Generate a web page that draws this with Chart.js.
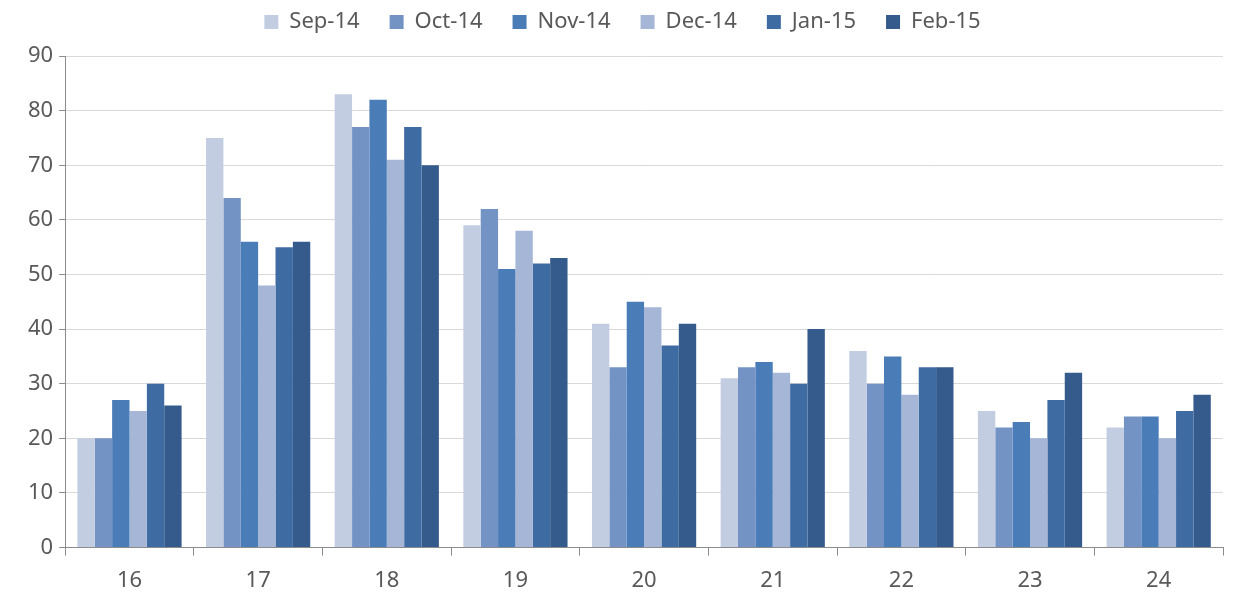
<!DOCTYPE html>
<html>
<head>
<meta charset="utf-8">
<script src="https://cdn.jsdelivr.net/npm/chart.js@4/dist/chart.umd.min.js"></script>
<style>
  html, body { margin: 0; padding: 0; background: #fff; }
  #wrap { width: 1237px; height: 593px; }
</style>
</head>
<body>
<div id="wrap"><canvas id="chart" width="1237" height="593"></canvas></div>
<script>
const categories = ['16', '17', '18', '19', '20', '21', '22', '23', '24'];
const seriesNames = ['Sep-14', 'Oct-14', 'Nov-14', 'Dec-14', 'Jan-15', 'Feb-15'];
const sep14 = [20, 75, 83, 59, 41, 31, 36, 25, 22];
const oct14 = [20, 64, 77, 62, 33, 33, 30, 22, 24];
const nov14 = [27, 56, 82, 51, 45, 34, 35, 23, 24];
const dec14 = [25, 48, 71, 58, 44, 32, 28, 20, 20];
const jan15 = [30, 55, 77, 52, 37, 30, 33, 27, 25];
const feb15 = [26, 56, 70, 53, 41, 40, 33, 32, 28];
const yTicks = [0, 10, 20, 30, 40, 50, 60, 70, 80, 90];

const colors = ['#c3cde2', '#7393c5', '#4a7cb8', '#a6b6d6', '#3f6ba3', '#345b8b'];
const values = [sep14, oct14, nov14, dec14, jan15, feb15];

// give the legend some extra room below it
const legendSpace = {
    id: 'legendSpace',
    beforeInit(chart) {
        const fit = chart.legend.fit;
        chart.legend.fit = function() {
            fit.bind(chart.legend)();
            this.height += 13;
        };
    }
};

const ctx = document.getElementById('chart').getContext('2d');
new Chart(ctx, {
    type: 'bar',
    data: {
        labels: categories,
        datasets: seriesNames.map((name, i) => ({
            label: name,
            data: values[i],
            backgroundColor: colors[i],
            borderWidth: 0,
            categoryPercentage: 0.81,
            barPercentage: 1
        }))
    },
    plugins: [legendSpace],
    options: {
        responsive: false,
        animation: false,
        layout: { padding: { left: 22, right: 14, top: -19, bottom: -13 } },
        plugins: {
            legend: {
                position: 'top',
                labels: {
                    boxWidth: 14,
                    boxHeight: 14,
                    padding: 30,
                    color: '#595959',
                    font: { family: 'Noto Sans', size: 22 }
                }
            },
            tooltip: { enabled: false }
        },
        scales: {
            x: {
                grid: {
                    display: true,
                    drawOnChartArea: false,
                    offset: true,
                    tickLength: 8,
                    tickColor: '#8c8c8c'
                },
                border: { color: '#8c8c8c' },
                ticks: {
                    color: '#595959',
                    padding: 12,
                    font: { family: 'Noto Sans', size: 22 }
                }
            },
            y: {
                min: 0,
                max: 90,
                afterBuildTicks: axis => { axis.ticks = yTicks.map(v => ({ value: v })); },
                grid: {
                    color: '#d9d9d9',
                    tickLength: 6,
                    tickColor: '#8c8c8c'
                },
                border: { color: '#8c8c8c' },
                ticks: {
                    color: '#595959',
                    padding: 6,
                    font: { family: 'Noto Sans', size: 22 }
                }
            }
        }
    }
});
</script>
</body>
</html>
